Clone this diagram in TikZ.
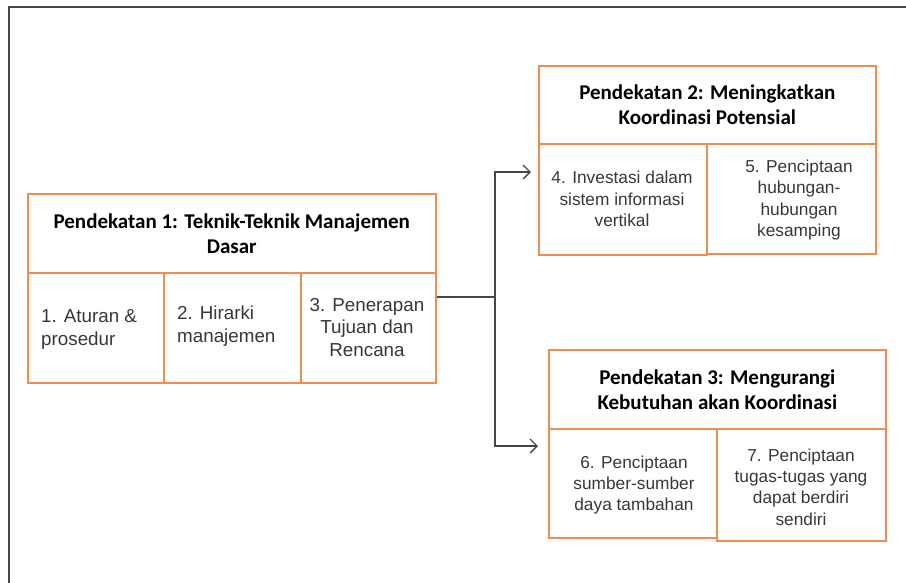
\documentclass[tikz,border=0pt]{standalone}
\usepackage{fontspec}
\setmainfont{Liberation Sans}
\newfontfamily\headfont{Carlito}
\usetikzlibrary{arrows.meta}
\definecolor{boxorange}{RGB}{240,140,80}
\definecolor{linegray}{RGB}{70,70,70}
\definecolor{textgray}{RGB}{55,55,55}
\tikzset{
  headbox/.style={draw=boxorange, line width=1.6pt, anchor=north west,
    inner sep=0pt, align=center, text=black,
    font=\headfont\bfseries\fontsize{21}{25}\selectfont},
  cellbox/.style={draw=boxorange, line width=1.6pt, anchor=north west,
    inner sep=0pt},
  celltext/.style={text=textgray, inner sep=0pt,
    font=\fontsize{17.3}{21.3}\selectfont},
  bigtext/.style={celltext, font=\fontsize{18.8}{22.5}\selectfont},
  link/.style={draw=linegray, line width=1.5pt},
  arrowlink/.style={link, -{Straight Barb[length=7pt,width=14pt,line width=1.3pt]}}
}
\begin{document}
\begin{tikzpicture}[x=1pt,y=-1pt]
\useasboundingbox (0,0) rectangle (906,582);
% outer frame
\draw[linegray, line width=2pt] (910,7) -- (9,7) -- (9,590);

% approach 1
\node[headbox, minimum width=408pt, minimum height=79pt] (h1) at (27,193)
  {Pendekatan 1: Teknik-Teknik Manajemen\\Dasar};
\node[cellbox, minimum width=136pt, minimum height=110pt] (c1) at (27,272) {};
\node[cellbox, minimum width=137pt, minimum height=110pt] (c2) at (163,272) {};
\node[cellbox, minimum width=135pt, minimum height=110pt] (c3) at (300,272) {};
\node[bigtext, align=left, anchor=west] (t1) at (41,329.5) {1. Aturan \&\\prosedur};
\node[bigtext, align=left, anchor=west] (t2) at (177,326) {2. Hirarki\\manajemen};
\node[bigtext, align=center] (t3) at (367,327.5) {3. Penerapan\\Tujuan dan\\Rencana};

% approach 2
\node[headbox, minimum width=337pt, minimum height=78pt] (h2) at (538,65)
  {Pendekatan 2: Meningkatkan\\Koordinasi Potensial};
\node[cellbox, minimum width=168pt, minimum height=111pt] (c4) at (538,143) {};
\node[cellbox, minimum width=169pt, minimum height=110pt] (c5) at (706,143) {};
\node[celltext, align=center] (t4) at (622,199)
  {4. Investasi dalam\\sistem informasi\\vertikal};
\node[celltext, align=center] (t5) at (799,200)
  {5. Penciptaan\\hubungan-\\hubungan\\kesamping};

% approach 3
\node[headbox, minimum width=337pt, minimum height=79pt] (h3) at (548,349)
  {Pendekatan 3: Mengurangi\\Kebutuhan akan Koordinasi};
\node[cellbox, minimum width=168pt, minimum height=109pt] (c6) at (548,428) {};
\node[cellbox, minimum width=169pt, minimum height=112pt] (c7) at (716,428) {};
\node[celltext, align=center] (t6) at (634,485)
  {6. Penciptaan\\sumber-sumber\\daya tambahan};
\node[celltext, align=center] (t7) at (801,487)
  {7. Penciptaan\\tugas-tugas yang\\dapat berdiri\\sendiri};

% connectors
\coordinate (j) at (495,297);
\coordinate (a2) at (531,172);
\coordinate (a3) at (538,446);
\draw[link] (c3.east |- j) -- (j);
\draw[arrowlink] (j) |- (a2);
\draw[arrowlink] (j) |- (a3);
\end{tikzpicture}
\end{document}
